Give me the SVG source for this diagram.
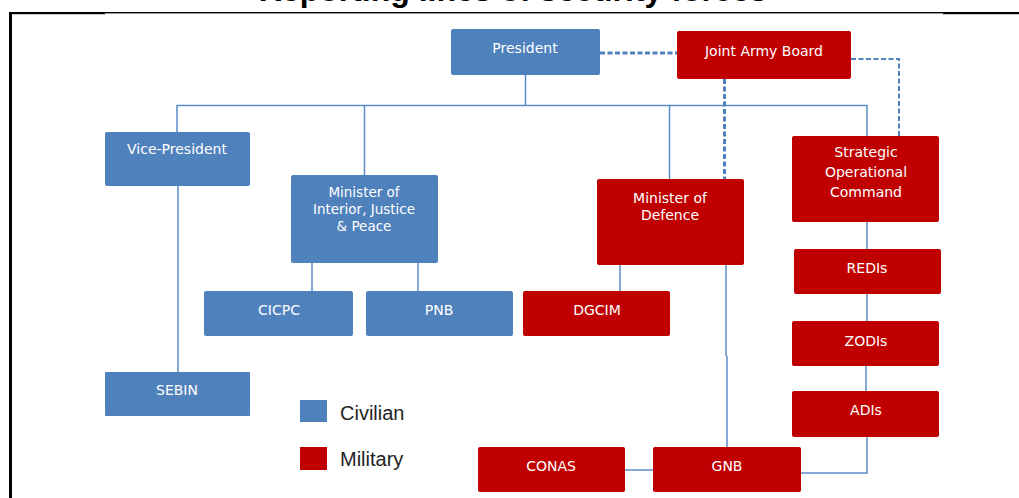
<svg xmlns="http://www.w3.org/2000/svg" width="1019" height="498" viewBox="0 0 1019 498">
<style>
.civ{fill:#4F81BD}
.mil{fill:#C00000}
.lbl{font-family:"DejaVu Sans",Verdana,sans-serif;font-size:14px;fill:#FFFFFF;text-anchor:middle}
.sm{font-size:13.5px}
.leg{font-family:"Liberation Sans",Arial,sans-serif;font-size:20px;fill:#222222}
.con{fill:none;stroke:#5C8CC8;stroke-width:1.5}
.dash{fill:none;stroke:#4F81BD;stroke-dasharray:5 2.5}
</style>
<rect width="1019" height="498" fill="#FFFFFF"/>
<text x="513" y="1" font-family="Liberation Sans,Arial,sans-serif" font-size="32" font-weight="bold" text-anchor="middle" fill="#000">Reporting lines of security forces</text>
<g id="frame">
<rect x="9" y="12" width="96" height="2.2" fill="#000"/>
<rect x="105" y="12" width="838" height="1.4" fill="#000"/>
<rect x="943" y="12" width="76" height="2.2" fill="#000"/>
<rect x="9" y="12" width="3" height="486" fill="#000"/>
</g>
<g id="connectors">
<path class="con" d="M525.5 75 V105.5"/>
<path class="con" d="M177 132 V105.5 H867 V136"/>
<path class="con" d="M364.5 105.5 V175"/>
<path class="con" d="M669.5 105.5 V179"/>
<path class="con" d="M178 186 V372"/>
<path class="con" d="M312 263 V291"/>
<path class="con" d="M418 263 V291"/>
<path class="con" d="M620 265 V291"/>
<path class="con" d="M726 265 V355 L727 357 V447"/>
<path class="con" d="M867 222 V249"/>
<path class="con" d="M867 294 V321"/>
<path class="con" d="M866 366 V391"/>
<path class="con" d="M867 437 V473 H801"/>
<path class="con" d="M625 470 H653" stroke-width="2.5"/>
<path class="dash" d="M600 53 H677" stroke-width="3"/>
<path class="dash" d="M724.5 79 V179" stroke-width="3"/>
<path class="dash" d="M851 59 H899 V136" stroke-width="2"/>
</g>
<g id="president"><rect class="civ" x="451" y="29" width="149" height="46" rx="2"/><text class="lbl" x="525" y="53">President</text></g>
<g id="joint-army-board"><rect class="mil" x="677" y="31" width="174" height="48" rx="2"/><text class="lbl" x="764" y="56">Joint Army Board</text></g>
<g id="vice-president"><rect class="civ" x="105" y="132" width="145" height="54" rx="2"/><text class="lbl" x="177" y="154">Vice-President</text></g>
<g id="minister-interior"><rect class="civ" x="291" y="175" width="147" height="88" rx="2"/><text class="lbl sm" x="364" y="197">Minister of</text><text class="lbl sm" x="364" y="214">Interior, Justice</text><text class="lbl sm" x="364" y="231">&amp; Peace</text></g>
<g id="minister-defence"><rect class="mil" x="597" y="179" width="147" height="86" rx="2"/><text class="lbl" x="670" y="203">Minister of</text><text class="lbl" x="670" y="220">Defence</text></g>
<g id="strategic-operational-command"><rect class="mil" x="792" y="136" width="147" height="86" rx="2"/><text class="lbl" x="866" y="157">Strategic</text><text class="lbl" x="866" y="177">Operational</text><text class="lbl" x="866" y="197">Command</text></g>
<g id="cicpc"><rect class="civ" x="204" y="291" width="149" height="45" rx="2"/><text class="lbl" x="279" y="315">CICPC</text></g>
<g id="pnb"><rect class="civ" x="366" y="291" width="147" height="45" rx="2"/><text class="lbl" x="439" y="315">PNB</text></g>
<g id="dgcim"><rect class="mil" x="523" y="291" width="147" height="45" rx="2"/><text class="lbl" x="597" y="315">DGCIM</text></g>
<g id="redis"><rect class="mil" x="794" y="249" width="147" height="45" rx="2"/><text class="lbl" x="867" y="273">REDIs</text></g>
<g id="zodis"><rect class="mil" x="792" y="321" width="147" height="45" rx="2"/><text class="lbl" x="866" y="346">ZODIs</text></g>
<g id="adis"><rect class="mil" x="792" y="391" width="147" height="46" rx="2"/><text class="lbl" x="866" y="415">ADIs</text></g>
<g id="sebin"><rect class="civ" x="105" y="372" width="145" height="44" rx="1"/><text class="lbl" x="177" y="395">SEBIN</text></g>
<g id="conas"><rect class="mil" x="478" y="447" width="147" height="45" rx="2"/><text class="lbl" x="551" y="471">CONAS</text></g>
<g id="gnb"><rect class="mil" x="653" y="447" width="148" height="45" rx="2"/><text class="lbl" x="727" y="471">GNB</text></g>
<g id="legend">
<rect class="civ" x="300" y="400" width="27" height="22"/>
<text class="leg" x="340" y="420">Civilian</text>
<rect class="mil" x="300" y="447" width="27" height="23"/>
<text class="leg" x="340" y="466">Military</text>
</g>
</svg>
